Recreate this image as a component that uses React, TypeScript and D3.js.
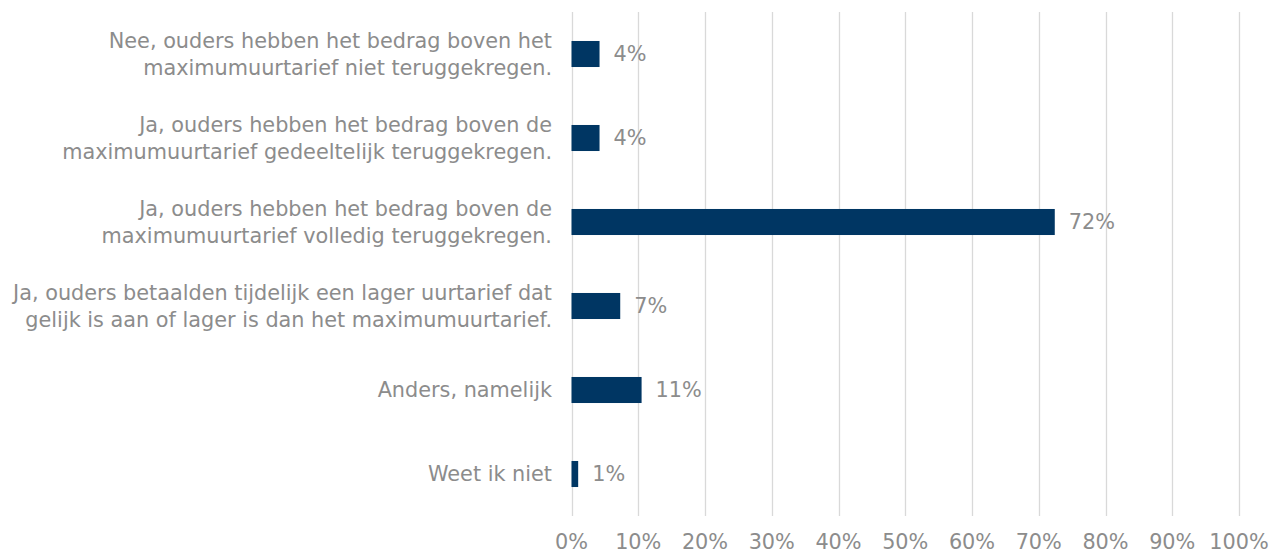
import React from "react";
import * as d3 from "d3";

const categories: string[][] = [
  ["Nee, ouders hebben het bedrag boven het", "maximumuurtarief niet teruggekregen."],
  ["Ja, ouders hebben het bedrag boven de", "maximumuurtarief gedeeltelijk teruggekregen."],
  ["Ja, ouders hebben het bedrag boven de", "maximumuurtarief volledig teruggekregen."],
  ["Ja, ouders betaalden tijdelijk een lager uurtarief dat", "gelijk is aan of lager is dan het maximumuurtarief."],
  ["Anders, namelijk"],
  ["Weet ik niet"],
];
const values: number[] = [4.2, 4.2, 72.4, 7.3, 10.5, 1.0];
const valueLabels: string[] = ["4%", "4%", "72%", "7%", "11%", "1%"];
const ticks: number[] = [0, 10, 20, 30, 40, 50, 60, 70, 80, 90, 100];

const W = 1270;
const H = 554;
const plotLeft = 571.5;
const plotRight = 1239;
const plotTop = 12;
const plotBottom = 516;
const FONT = "'DejaVu Sans', Verdana, sans-serif";
const GRAY = "#8c8c8c";
const BAR = "#003663";
const FS = 20.8;

export default function App() {
  const x = d3.scaleLinear().domain([0, 100]).range([plotLeft, plotRight]);
  const y = d3
    .scaleBand<number>()
    .domain(categories.map((_, i) => i))
    .range([plotTop, plotBottom])
    .paddingInner(0.69)
    .paddingOuter(0.345);
  const lineH = 27;
  return (
    <svg
      width={W}
      height={H}
      style={{ position: "absolute", left: 0, top: 0, background: "#fff" }}
      fontFamily={FONT}
    >
      {ticks.map((t) => (
        <line
          key={"g" + t}
          x1={Math.round(x(t)) + 0.5}
          x2={Math.round(x(t)) + 0.5}
          y1={plotTop}
          y2={plotBottom}
          stroke="#d9d9d9"
          strokeWidth={1.3}
        />
      ))}
      {values.map((v, i) => {
        const yc = (y(i) as number) + y.bandwidth() / 2;
        return (
          <g key={"b" + i}>
            <rect
              x={x(0)}
              y={y(i)}
              width={x(v) - x(0)}
              height={y.bandwidth()}
              fill={BAR}
            />
            <text
              x={x(v) + 14}
              y={yc}
              dy="0.35em"
              fontSize={FS}
              fill={GRAY}
            >
              {valueLabels[i]}
            </text>
            <text
              x={552}
              y={yc - ((categories[i].length - 1) * lineH) / 2}
              fontSize={FS}
              fill={GRAY}
              textAnchor="end"
            >
              {categories[i].map((line, j) => (
                <tspan key={j} x={552} dy={j === 0 ? "0.35em" : lineH}>
                  {line}
                </tspan>
              ))}
            </text>
          </g>
        );
      })}
      {ticks.map((t) => (
        <text
          key={"t" + t}
          x={x(t)}
          y={541.5}
          dy="0.35em"
          fontSize={FS}
          fill={GRAY}
          textAnchor="middle"
        >
          {t + "%"}
        </text>
      ))}
    </svg>
  );
}
